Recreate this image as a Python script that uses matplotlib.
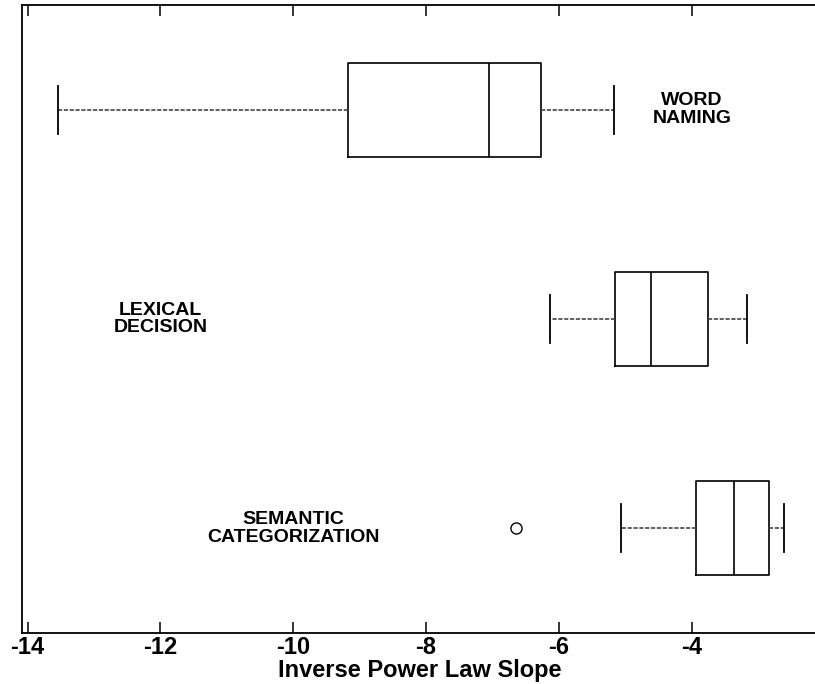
import numpy as np
import matplotlib.pyplot as plt

plt.rcParams['font.family'] = ['Liberation Sans', 'DejaVu Sans']

# values (inverse power law slope)
tasks = ['WORD\nNAMING', 'LEXICAL\nDECISION', 'SEMANTIC\nCATEGORIZATION']
whislo = [-13.54, -6.14, -5.07]
q1 = [-9.18, -5.15, -3.93]
med = [-7.05, -4.62, -3.36]
q3 = [-6.27, -3.76, -2.83]
whishi = [-5.17, -3.17, -2.61]
fliers = [[], [], [-6.64]]
ypos = [3, 2, 1]
# where each task label sits (data coords)
label_x = [-4.0, -12.0, -10.0]
label_y = [3.0, 2.0, 1.0]

stats = []
for i in range(3):
    stats.append(dict(whislo=whislo[i], q1=q1[i], med=med[i], q3=q3[i],
                      whishi=whishi[i], fliers=fliers[i], label=''))

fig = plt.figure(figsize=(8.15, 6.84), dpi=100)
ax = fig.add_axes([0.0266, 0.0746, 0.977, 0.918])

ax.bxp(stats, positions=ypos, vert=False, widths=0.45, capwidths=0.23,
       boxprops=dict(color='black', linewidth=1.2),
       medianprops=dict(color='black', linewidth=1.2),
       whiskerprops=dict(color='#444444', linestyle=(0, (2.5, 1)), linewidth=1.2),
       capprops=dict(color='black', linewidth=1.3),
       flierprops=dict(marker='o', markerfacecolor='none', markeredgecolor='black',
                       markersize=8, markeredgewidth=1.0))

for i in range(3):
    ax.text(label_x[i], label_y[i], tasks[i], ha='center', va='center',
            fontsize=14, fontweight='bold', linespacing=1.05)

ax.set_xlim(-14.09, -2.1)
ax.set_ylim(0.5, 3.5)
ax.set_xticks([-14, -12, -10, -8, -6, -4])
ax.set_xticklabels(['-14', '-12', '-10', '-8', '-6', '-4'], fontsize=17, fontweight='bold')
ax.set_yticks([])
ax.tick_params(axis='x', direction='in', length=8, width=1.1, top=True, pad=2)
ax.set_xlabel('Inverse Power Law Slope', fontsize=17, fontweight='bold', labelpad=0)
for s in ax.spines.values():
    s.set_linewidth(1.3)

plt.savefig('out.png', dpi=100)
